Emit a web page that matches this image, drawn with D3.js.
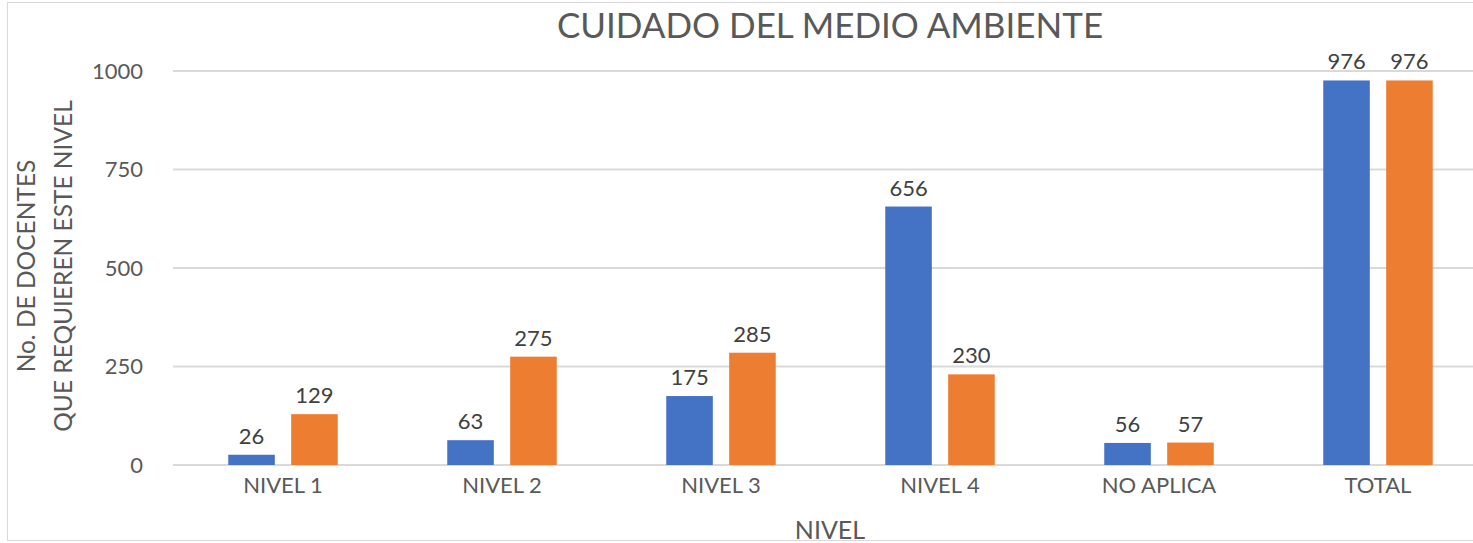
<!DOCTYPE html>
<html><head><meta charset="utf-8">
<script src="https://cdn.jsdelivr.net/npm/d3@7"></script>
<style>body{margin:0;background:#fff;} svg{display:block;font-family:Lato,"Open Sans",sans-serif;}</style>
</head><body>
<svg id="c" width="1473" height="543"></svg>
<script>
const categories = ["NIVEL 1","NIVEL 2","NIVEL 3","NIVEL 4","NO APLICA","TOTAL"];
const series1 = [26,63,175,656,56,976];
const series2 = [129,275,285,230,57,976];
const yTicks = [0,250,500,750,1000];
const colors = ["#4472C4","#ED7D31"];

const svg = d3.select("#c");
svg.append("rect").attr("x",7.5).attr("y",2.5).attr("width",1480).attr("height",538)
  .attr("fill","#fff").attr("stroke","#d9d9d9");

const x0 = d3.scaleBand().domain(categories).range([173.5,1487.5]).paddingInner(0.5).paddingOuter(0.25);
const x1 = d3.scaleBand().domain([0,1]).range([0,x0.bandwidth()]).paddingInner(0.26);
const y = d3.scaleLinear().domain([0,1000]).range([465,71]);

const grid = svg.append("g");
grid.selectAll("line").data(yTicks).join("line")
  .attr("x1",173).attr("x2",1473).attr("y1",d=>y(d)).attr("y2",d=>y(d))
  .attr("stroke","#d9d9d9").attr("stroke-width",2);

const yAxis = svg.append("g").attr("transform","translate(143,0)")
  .call(d3.axisLeft(y).tickValues(yTicks).tickFormat(d3.format("d")).tickSize(0).tickPadding(0));
yAxis.select(".domain").remove();
yAxis.selectAll("text").attr("fill","#595959").style("font-size","22px").style("font-family","Lato,sans-serif");

const xAxis = svg.append("g").attr("transform","translate(0,465)")
  .call(d3.axisBottom(x0).tickSize(0).tickPadding(12));
xAxis.select(".domain").remove();
xAxis.selectAll("text").attr("fill","#595959").style("font-size","22px").style("font-family","Lato,sans-serif");

const data = categories.map((c,i)=>({c, v:[series1[i],series2[i]]}));
const groups = svg.append("g").selectAll("g").data(data).join("g")
  .attr("transform",d=>`translate(${x0(d.c)},0)`);
groups.selectAll("rect").data(d=>d.v.map((v,k)=>({v,k}))).join("rect")
  .attr("x",d=>x1(d.k)).attr("width",x1.bandwidth())
  .attr("y",d=>y(d.v)).attr("height",d=>y(0)-y(d.v))
  .attr("fill",d=>colors[d.k]);
groups.selectAll("text").data(d=>d.v.map((v,k)=>({v,k}))).join("text")
  .attr("x",d=>x1(d.k)+x1.bandwidth()/2).attr("y",d=>y(d.v)-11)
  .attr("text-anchor","middle").attr("fill","#404040").style("font-size","22px")
  .text(d=>d.v);

svg.append("text").attr("x",830).attr("y",38).attr("text-anchor","middle")
  .attr("fill","#595959").style("font-size","35px").text("CUIDADO DEL MEDIO AMBIENTE");
svg.append("text").attr("x",830).attr("y",539).attr("text-anchor","middle")
  .attr("fill","#595959").style("font-size","25px").text("NIVEL");
const yt = svg.append("text").attr("transform","translate(0,266) rotate(-90)")
  .attr("text-anchor","middle").attr("fill","#595959").style("font-size","24.5px");
yt.append("tspan").attr("x",0).attr("y",35).text("No. DE DOCENTES");
yt.append("tspan").attr("x",0).attr("y",72).text("QUE REQUIEREN ESTE NIVEL");
</script>
</body></html>
